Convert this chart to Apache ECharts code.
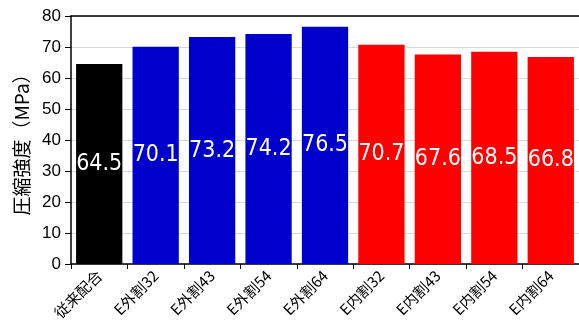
<!DOCTYPE html>
<html>
<head>
<meta charset="utf-8">
<script src="https://cdn.jsdelivr.net/npm/echarts@6/dist/echarts.min.js"></script>
<style>
  html, body { margin: 0; padding: 0; background: #fff; }
  #chart { width: 579px; height: 320px; }
</style>
</head>
<body>
<div id="chart"></div>
<script>
// Compressive strength by mix
const categories = ['従来配合', 'E外割32', 'E外割43', 'E外割54', 'E外割64', 'E内割32', 'E内割43', 'E内割54', 'E内割64'];
const strengths = [64.5, 70.1, 73.2, 74.2, 76.5, 70.7, 67.6, 68.5, 66.8];
const barColors = ['#000000', '#0000cc', '#0000cc', '#0000cc', '#0000cc', '#ff0000', '#ff0000', '#ff0000', '#ff0000'];
const yTicks = [0, 10, 20, 30, 40, 50, 60, 70, 80];

const jp = '"Noto Sans CJK JP", "Noto Sans", sans-serif';
const narrow = '"Liberation Sans Narrow", "DejaVu Sans Condensed", "Liberation Sans", sans-serif';

const chart = echarts.init(document.getElementById('chart'), null, { renderer: 'canvas' });
chart.setOption({
  animation: false,
  grid: { left: 71, right: 0, top: 16, bottom: 56, outerBoundsMode: 'none', containLabel: false },
  xAxis: [{
    type: 'category',
    data: categories,
    axisLine: { lineStyle: { color: '#000', width: 1.5 } },
    axisTick: { show: true, length: 5, lineStyle: { color: '#000' } },
    axisLabel: {
      rotate: 45, margin: 9, color: '#000',
      fontFamily: jp, fontSize: 15, interval: 0
    }
  }, {
    type: 'category',
    data: categories,
    position: 'top',
    axisLine: { lineStyle: { color: '#000', width: 1.5 } },
    axisTick: { show: false },
    axisLabel: { show: false }
  }],
  yAxis: {
    type: 'value',
    min: yTicks[0],
    max: yTicks[yTicks.length - 1],
    interval: 10,
    name: '圧縮強度（MPa）',
    nameLocation: 'middle',
    nameGap: 38,
    nameRotate: 90,
    nameTextStyle: { fontFamily: jp, fontSize: 19, color: '#000' },
    axisLine: { show: true, lineStyle: { color: '#000', width: 1.5 } },
    axisTick: { show: true, length: 6, lineStyle: { color: '#000' } },
    axisLabel: { color: '#000', fontFamily: '"Liberation Sans", Arial, sans-serif', fontSize: 17, margin: 10 },
    splitLine: { show: true, lineStyle: { color: '#d9d9d9', width: 1 } }
  },
  series: [{
    type: 'bar',
    data: strengths.map((v, i) => ({ value: v, itemStyle: { color: barColors[i] } })),
    barCategoryGap: '18%',
    label: {
      show: true,
      position: 'inside',
      color: '#fff',
      fontFamily: narrow,
      fontSize: 23,
      formatter: p => p.value.toFixed(1)
    }
  }]
});
</script>
</body>
</html>
